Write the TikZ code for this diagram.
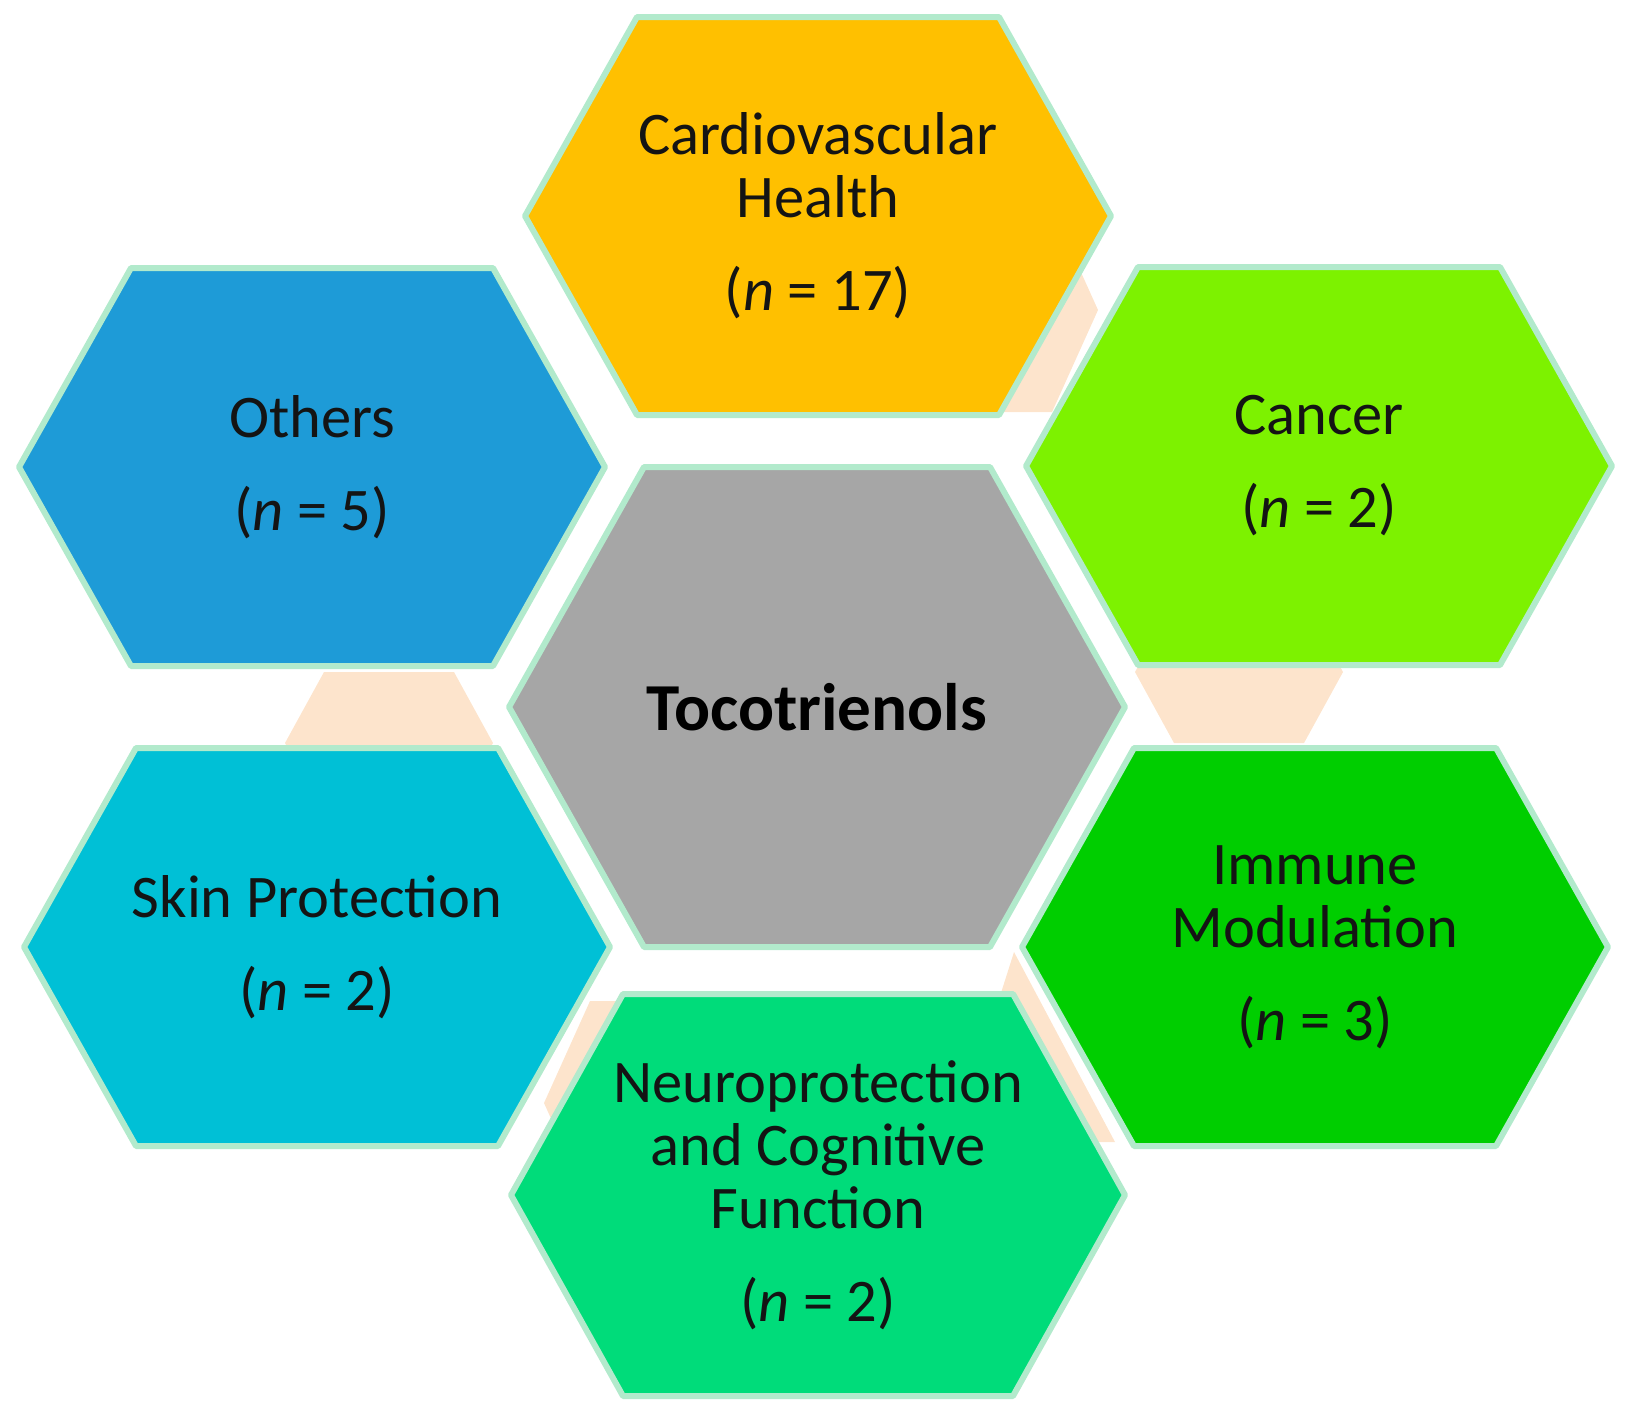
\documentclass[tikz,border=0pt]{standalone}
\usepackage{fontspec}
\setmainfont{Carlito}
\usepackage{tikz}
\definecolor{mintline}{RGB}{178,234,204}
\definecolor{peachfill}{RGB}{253,228,204}
\definecolor{cardiofill}{RGB}{255,192,0}
\definecolor{othersfill}{RGB}{30,155,215}
\definecolor{cancerfill}{RGB}{125,242,0}
\definecolor{skinfill}{RGB}{0,192,214}
\definecolor{immunefill}{RGB}{0,206,0}
\definecolor{neurofill}{RGB}{0,220,122}
\definecolor{tocofill}{RGB}{166,166,166}
\definecolor{txtcol}{RGB}{20,20,20}
\begin{document}
\begin{tikzpicture}[line cap=round,line join=round,x=0.01cm,y=-0.01cm,
    hexa/.style={draw=mintline,line width=1.7pt},
    lbl/.style={text=txtcol,align=center,font=\fontsize{17.2}{17.93}\selectfont}]
\useasboundingbox (0,0) rectangle (1634,1414);
\fill[fill=peachfill] (884,208) -- (1052,208) -- (1098,310) -- (1052,412) -- (884,412) -- (838,310) -- cycle;
\fill[fill=peachfill] (1174,601) -- (1304,601) -- (1343,672) -- (1304,743) -- (1174,743) -- (1135,672) -- cycle;
\fill[fill=peachfill] (1014,952) -- (1115,1142) -- (1060,1142) -- (1000,996) -- cycle;
\fill[fill=peachfill] (590,1001) -- (758,1001) -- (804,1103) -- (758,1205) -- (590,1205) -- (544,1103) -- cycle;
\fill[fill=peachfill] (324,672) -- (454,672) -- (493,743) -- (454,814) -- (324,814) -- (285,743) -- cycle;
\draw[hexa,fill=cardiofill] (637,17) -- (999,17) -- (1111,216) -- (999,415) -- (637,415) -- (525,216) -- cycle;
\draw[hexa,fill=othersfill] (131,268) -- (493,268) -- (605,467) -- (493,666) -- (131,666) -- (19,467) -- cycle;
\draw[hexa,fill=cancerfill] (1138,267) -- (1500,267) -- (1612,466) -- (1500,665) -- (1138,665) -- (1026,466) -- cycle;
\draw[hexa,fill=skinfill] (136,748) -- (498,748) -- (610,947) -- (498,1146) -- (136,1146) -- (24,947) -- cycle;
\draw[hexa,fill=immunefill] (1134,748) -- (1496,748) -- (1608,947) -- (1496,1146) -- (1134,1146) -- (1022,947) -- cycle;
\draw[hexa,fill=neurofill] (623,994) -- (1013,994) -- (1125,1195) -- (1013,1396) -- (623,1396) -- (511,1195) -- cycle;
\draw[hexa,fill=tocofill] (644,467) -- (990,467) -- (1125,707) -- (990,947) -- (644,947) -- (509,707) -- cycle;
\node[lbl] (cardio) at (818,216) {Cardiovascular\\Health\\[0.3cm](\textit{n} = 17)};
\node[lbl] (others) at (312,467) {Others\\[0.3cm](\textit{n} = 5)};
\node[lbl] (cancer) at (1319,466) {Cancer\\[0.3cm](\textit{n} = 2)};
\node[lbl] (skin) at (317,947) {Skin Protection\\[0.3cm](\textit{n} = 2)};
\node[lbl] (immune) at (1315,947) {Immune\\Modulation\\[0.3cm](\textit{n} = 3)};
\node[lbl] (neuro) at (818,1195) {Neuroprotection\\and Cognitive\\Function\\[0.3cm](\textit{n} = 2)};
\node[text=black,font=\fontsize{19.1}{20}\selectfont\bfseries] (toco) at (817,707) {Tocotrienols};
\end{tikzpicture}
\end{document}
